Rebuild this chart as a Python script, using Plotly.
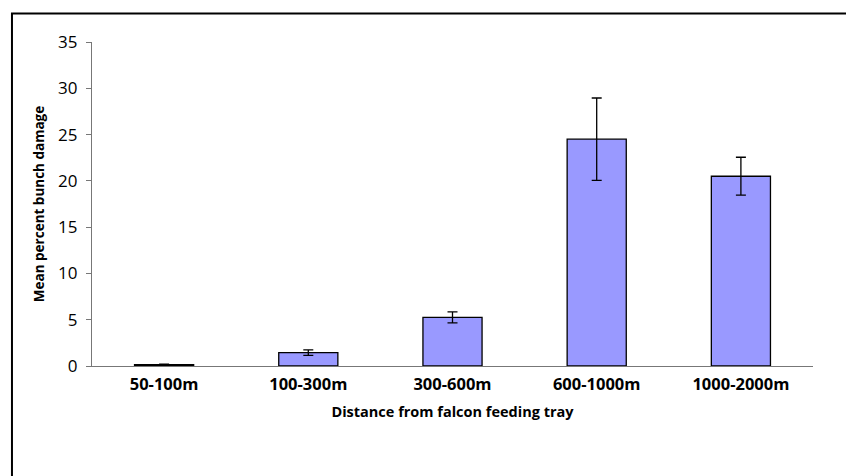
import plotly.graph_objects as go

categories = ["50-100m", "100-300m", "300-600m", "600-1000m", "1000-2000m"]
mean_damage = [0.15, 1.45, 5.25, 24.5, 20.5]
error_se = [0.06, 0.3, 0.6, 4.45, 2.05]
y_ticks = [0, 5, 10, 15, 20, 25, 30, 35]

fig = go.Figure()
fig.add_trace(go.Bar(
    x=categories, y=mean_damage,
    marker=dict(color="#9999FF", line=dict(color="black", width=1.3)),
    width=0.41,
    error_y=dict(type="data", array=error_se, visible=True, color="black", thickness=1.3, width=5),
))

FONT = "Open Sans"
fig.update_layout(
    width=854, height=476,
    margin=dict(l=84, r=49, t=34, b=118),
    paper_bgcolor="white", plot_bgcolor="white",
    showlegend=False,
    font=dict(family=FONT, color="black"),
    xaxis=dict(
        showline=True, linecolor="#777", linewidth=1.3,
        ticks="", ticklabelstandoff=3,
        tickfont=dict(family=FONT, size=16.5, color="black", weight="bold"),
        title=dict(text="<b>Distance from falcon feeding tray</b>", font=dict(family=FONT, size=14.5), standoff=12),
    ),
    yaxis=dict(
        range=[0, 35], tickvals=y_ticks,
        showline=True, linecolor="#777", linewidth=1.3,
        ticks="outside", ticklen=5, tickcolor="#777", ticklabelstandoff=5,
        showgrid=False, zeroline=False,
        tickfont=dict(family=FONT, size=17, color="black"),
        title=dict(text="<b>Mean percent bunch damage</b>", font=dict(family=FONT, size=13.5), standoff=10),
    ),
    shapes=[dict(type="rect", xref="paper", yref="paper",
                 x0=-0.111, x1=1.1, y0=-0.4, y1=1.0878,
                 line=dict(color="black", width=2), fillcolor="rgba(0,0,0,0)", layer="below")],
)

fig.write_html("out.html")
